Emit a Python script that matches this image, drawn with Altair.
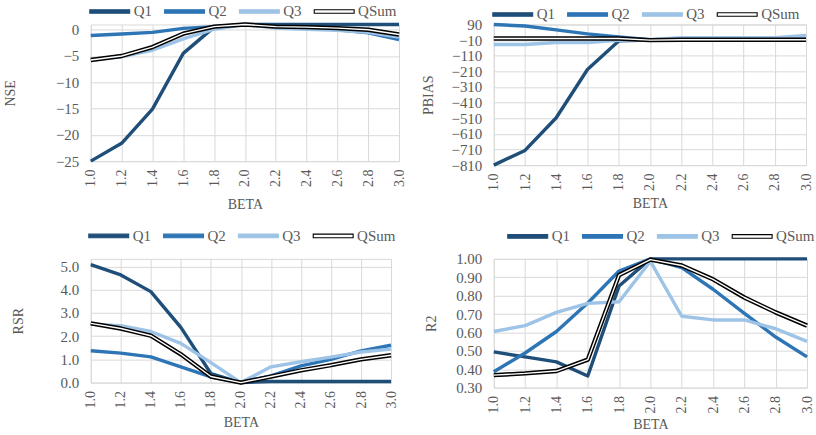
import altair as alt
import pandas as pd

# BETA values on the x axis
beta = [1.0, 1.2, 1.4, 1.6, 1.8, 2.0, 2.2, 2.4, 2.6, 2.8, 3.0]
series = ["Q1", "Q2", "Q3", "QSum"]
colors = ["#1F4E79", "#2E75B6", "#9DC3E6", "#000000"]

# NSE
nse_q1 = [-25.0, -21.6, -15.1, -4.5, 0.5, 1.0, 1.0, 1.0, 1.0, 1.0, 1.0]
nse_q2 = [-1.1, -0.8, -0.5, 0.25, 0.6, 1.0, 0.45, 0.3, 0.0, -0.6, -1.9]
nse_q3 = [-5.6, -5.1, -3.9, -1.75, 0.1, 1.0, 0.3, 0.1, -0.1, -0.5, -1.4]
nse_qsum = [-5.75, -5.0, -3.3, -0.75, 0.6, 1.0, 0.6, 0.5, 0.3, 0.0, -0.9]

# PBIAS
pb_q1 = [-810, -716, -507, -198, -15, -10, -10, -10, -10, -10, -10]
pb_q2 = [90, 80, 55, 30, 10, -8, -5, -5, -5, -5, -5]
pb_q3 = [-38, -38, -25, -25, -12, -8, 5, 5, 5, 5, 20]
pb_qsum = [0, 0, 0, 0, 0, -10, -8, -8, -8, -8, -8]

# RSR
rsr_q1 = [5.08, 4.64, 3.92, 2.38, 0.39, 0.0, 0.05, 0.05, 0.05, 0.05, 0.05]
rsr_q2 = [1.37, 1.27, 1.11, 0.68, 0.25, 0.0, 0.29, 0.72, 1.0, 1.37, 1.61]
rsr_q3 = [2.52, 2.45, 2.2, 1.69, 0.86, 0.0, 0.68, 0.9, 1.1, 1.32, 1.44]
rsr_qsum = [2.55, 2.33, 2.02, 1.22, 0.26, 0.0, 0.26, 0.53, 0.75, 1.0, 1.18]

# R2
r2_q1 = [0.494, 0.467, 0.44, 0.363, 0.853, 1.0, 1.0, 1.0, 1.0, 1.0, 1.0]
r2_q2 = [0.386, 0.488, 0.605, 0.76, 0.934, 1.0, 0.952, 0.835, 0.704, 0.575, 0.467]
r2_q3 = [0.605, 0.637, 0.709, 0.758, 0.767, 0.987, 0.688, 0.668, 0.668, 0.62, 0.551]
r2_qsum = [0.368, 0.377, 0.39, 0.452, 0.912, 0.996, 0.964, 0.889, 0.79, 0.709, 0.637]

SERIF = "Liberation Serif, Times New Roman, DejaVu Serif, serif"
TEXT = "#595959"
GRID = "#D9D9D9"


def color_expr(qsum_color):
    expr = f"'{colors[2]}'"
    expr = f"(datum.value === '{series[1]}' ? '{colors[1]}' : {expr})"
    expr = f"(datum.value === '{series[0]}' ? '{colors[0]}' : {expr})"
    return f"datum.value === 'QSum' ? '{qsum_color}' : {expr}"


def long_table(cols):
    rows = []
    for name, vals in zip(series, cols):
        for b, v in zip(beta, vals):
            rows.append({"beta": b, "series": name, "value": v})
    return pd.DataFrame(rows)


def panel(cols, title, domain, ticks, fmt, width, height,
          y_title_pad, x_title_pad, legend_x, legend_y):
    df = long_table(cols)
    legend = alt.Legend(
        orient="none", legendX=legend_x, legendY=legend_y,
        direction="horizontal", title=None, padding=0,
        symbolType="M-1,-0.09L1,-0.09L1,0.09L-1,0.09Z", symbolSize=1600,
        labelOffset=3, columnPadding=9,
        labelFont=SERIF, labelFontSize=15, labelColor=TEXT,
        symbolFillColor=alt.ExprRef(expr=color_expr("#ffffff")),
        symbolStrokeColor=alt.ExprRef(expr=color_expr("#000000")),
        symbolStrokeWidth=1.1, symbolOpacity=1,
    )
    x = alt.X("beta:Q",
              scale=alt.Scale(domain=[1.0, 3.0], nice=False, zero=False),
              axis=alt.Axis(values=beta, format=".1f", labelAngle=-90,
                            labelPadding=8, title="BETA",
                            titlePadding=x_title_pad))
    y = alt.Y("value:Q",
              scale=alt.Scale(domain=domain, nice=False, zero=False),
              axis=alt.Axis(values=ticks, format=fmt, labelPadding=12,
                            title=title, titlePadding=y_title_pad))
    col = alt.Color("series:N", scale=alt.Scale(domain=series, range=colors),
                    legend=legend)
    base = alt.Chart(df)
    q_lines = base.transform_filter(alt.datum.series != "QSum").mark_line(
        strokeWidth=3.4, strokeJoin="round").encode(x=x, y=y, color=col,
                                                    detail="series:N")
    qsum_outer = base.transform_filter(alt.datum.series == "QSum").mark_line(
        strokeWidth=4.4, strokeJoin="round").encode(x=x, y=y, color=col)
    qsum_inner = base.transform_filter(alt.datum.series == "QSum").mark_line(
        strokeWidth=1.4, strokeJoin="round", color="#ffffff").encode(x=x, y=y)
    return alt.layer(q_lines, qsum_outer, qsum_inner).properties(
        width=width, height=height)


p_nse = panel([nse_q1, nse_q2, nse_q3, nse_qsum], "NSE", [-25, 1],
              [-25, -20, -15, -10, -5, 0], "d", 309, 137, 38, 11, -2, -34)
p_pb = panel([pb_q1, pb_q2, pb_q3, pb_qsum], "PBIAS", [-810, 90],
             [-810, -710, -610, -510, -410, -310, -210, -110, -10, 90], "d",
             313, 141, 15, 6, -2, -31)
p_rsr = panel([rsr_q1, rsr_q2, rsr_q3, rsr_qsum], "RSR", [0, 5.33],
              [0, 1, 2, 3, 4, 5], ".1f", 301, 124, 35, 8, -3, -44)
p_r2 = panel([r2_q1, r2_q2, r2_q3, r2_qsum], "R2", [0.3, 1.0],
             [0.3, 0.4, 0.5, 0.6, 0.7, 0.8, 0.9, 1.0], ".2f", 314, 129,
             17, 5, 13, -43.5)

chart = alt.concat(
    p_nse, p_pb, p_rsr, p_r2, columns=2,
    spacing={"row": 2, "column": 14},
).resolve_scale(
    color="independent"
).properties(
    padding={"left": 3, "top": -11, "right": 0, "bottom": 0},
    background="#ffffff",
).configure_view(
    stroke=GRID, strokeWidth=1
).configure_axis(
    grid=True, gridColor=GRID, gridWidth=1, domain=False, ticks=False,
    labelFont=SERIF, labelFontSize=15, labelColor=TEXT,
    titleFont=SERIF, titleFontSize=14, titleColor=TEXT,
    titleFontWeight="normal",
).configure_axisX(labelFontSize=14)

chart.save("out.html", embed_options={"renderer": "svg", "actions": False})
